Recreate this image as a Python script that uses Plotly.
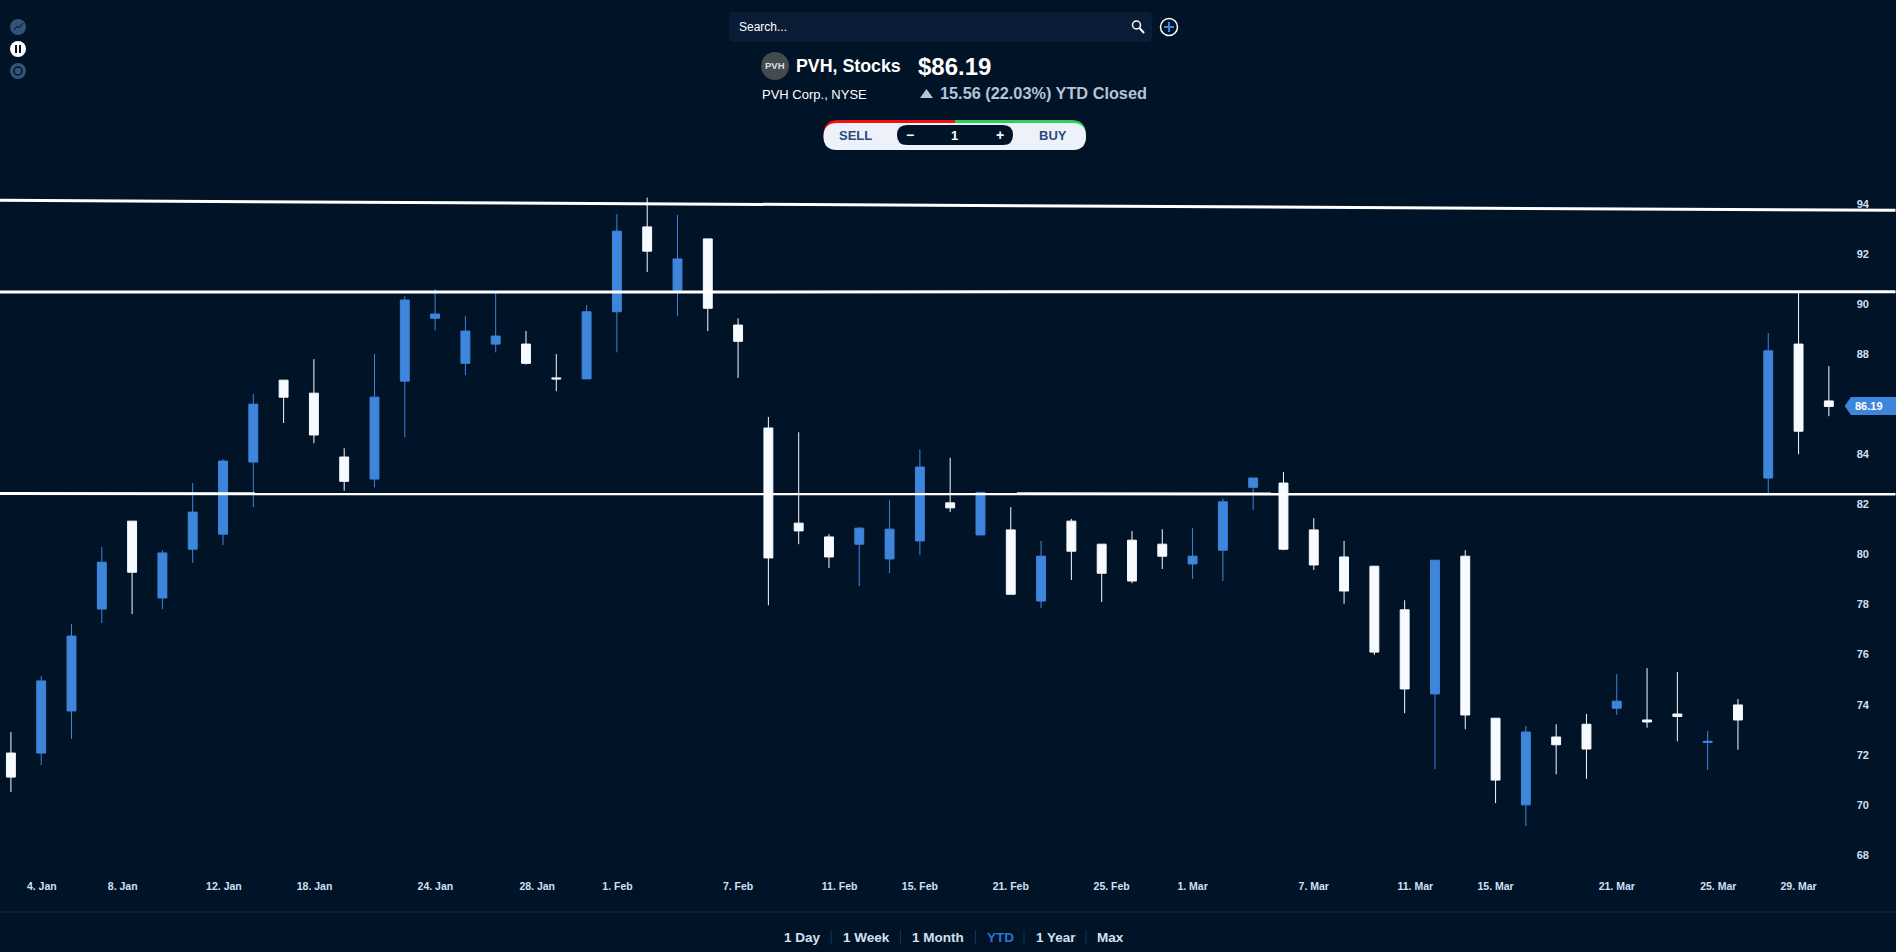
import plotly.graph_objects as go

# trading sessions, the x axis is one unit per session
session = list(range(61))

open_ = [72.35, 72.35, 74.03, 78.10, 81.61, 78.54, 80.49, 81.09, 83.97, 87.24,
         86.72, 84.17, 83.29, 87.20, 89.71, 87.91, 88.68, 88.68, 87.33, 87.29,
         89.97, 93.36, 90.83, 92.88, 89.44, 85.33, 81.53, 80.98, 80.69, 80.10,
         80.82, 82.34, 81.06, 81.26, 78.42, 81.61, 80.69, 80.85, 80.69, 79.90,
         80.45, 82.96, 83.13, 81.26, 80.18, 79.81, 78.07, 74.71, 80.21, 73.74,
         70.28, 72.99, 73.50, 74.14, 73.67, 73.91, 72.77, 74.27, 83.33, 88.68, 86.41]
high = [73.19, 75.43, 77.50, 80.58, 81.61, 80.45, 83.13, 84.08, 86.69, 87.24,
        88.08, 84.52, 88.28, 90.59, 90.88, 89.80, 90.77, 89.20, 88.28, 90.24,
        93.87, 94.53, 93.84, 92.88, 89.71, 85.77, 85.16, 81.09, 81.37, 82.45,
        84.48, 84.14, 82.76, 82.17, 80.82, 81.70, 80.69, 81.22, 81.29, 81.33,
        82.52, 83.33, 83.57, 81.73, 80.82, 79.81, 78.45, 80.05, 80.45, 73.74,
        73.43, 73.50, 73.91, 75.50, 75.74, 75.59, 73.23, 74.51, 89.12, 90.74, 87.80]
low = [70.79, 71.87, 72.92, 77.54, 77.90, 78.10, 79.94, 80.65, 82.17, 85.53,
       84.72, 82.82, 82.96, 84.96, 89.23, 87.44, 88.35, 87.86, 86.80, 87.29,
       88.35, 91.56, 89.80, 89.20, 87.33, 78.25, 80.69, 79.74, 79.02, 79.53,
       80.25, 81.97, 81.06, 78.69, 78.14, 79.26, 78.38, 79.13, 79.70, 79.30,
       79.22, 82.05, 80.45, 79.66, 78.31, 76.27, 73.94, 71.71, 73.30, 70.35,
       69.43, 71.50, 71.32, 73.87, 73.36, 72.82, 71.67, 72.48, 82.71, 84.28, 85.80]
close = [71.39, 75.23, 77.02, 79.97, 79.57, 80.34, 81.97, 84.01, 86.28, 86.56,
         85.05, 83.20, 86.56, 90.44, 89.88, 89.20, 89.00, 87.91, 87.29, 89.97,
         93.19, 92.39, 92.08, 90.11, 88.79, 80.14, 81.22, 80.18, 81.33, 81.29,
         83.77, 82.14, 82.76, 78.69, 80.21, 80.41, 79.53, 79.22, 80.21, 80.21,
         82.38, 83.33, 80.49, 79.86, 78.82, 76.38, 74.91, 80.05, 73.87, 71.27,
         73.19, 72.68, 72.51, 74.42, 73.59, 73.81, 72.82, 73.67, 88.41, 85.20, 86.19]

x_tick_pos = [1.02, 3.69, 7.03, 10.02, 14.01, 17.37, 20.02, 24.0, 27.35, 30.0,
              33.0, 36.33, 39.0, 43.0, 46.35, 49.0, 53.0, 56.35, 59.0]
x_tick_labels = ["4. Jan", "8. Jan", "12. Jan", "18. Jan", "24. Jan", "28. Jan", "1. Feb",
                 "7. Feb", "11. Feb", "15. Feb", "21. Feb", "25. Feb", "1. Mar",
                 "7. Mar", "11. Mar", "15. Mar", "21. Mar", "25. Mar", "29. Mar"]
y_ticks = [68, 70, 72, 74, 76, 78, 80, 82, 84, 86, 88, 90, 92, 94]
y_tick_labels = ["68", "70", "72", "74", "76", "78", "80", "82", "84", "", "88", "90", "92", "94"]

# drawn trend lines, left end and right end
trend_x = [-0.376, 62.2]
trend_top = [94.42, 94.02]
trend_mid = [90.76, 90.77]
trend_low = [82.71, 82.69]

last_price = "86.19"
range_buttons = ["1 Day", "1 Week", "1 Month", "YTD", "1 Year", "Max"]

BG = "#011327"
BLUE = "#3e85dc"
WHITE = "#f7faff"
TICK = "#cfe0f5"
FONT = "Liberation Sans"

W, H = 1896, 952
PLOT_TOP, PLOT_BOTTOM = 150, 878


# page pixels to paper coords, the plot fills the width so only y needs the margin
def fx(x):
    return x / W


def fy(y):
    return (PLOT_BOTTOM - y) / (PLOT_BOTTOM - PLOT_TOP)


def rounded(x0, y0, x1, y1, r):
    p = [
        "M %f %f" % (fx(x0 + r), fy(y0)),
        "L %f %f" % (fx(x1 - r), fy(y0)),
        "Q %f %f %f %f" % (fx(x1), fy(y0), fx(x1), fy(y0 + r)),
        "L %f %f" % (fx(x1), fy(y1 - r)),
        "Q %f %f %f %f" % (fx(x1), fy(y1), fx(x1 - r), fy(y1)),
        "L %f %f" % (fx(x0 + r), fy(y1)),
        "Q %f %f %f %f" % (fx(x0), fy(y1), fx(x0), fy(y1 - r)),
        "L %f %f" % (fx(x0), fy(y0 + r)),
        "Q %f %f %f %f" % (fx(x0), fy(y0), fx(x0 + r), fy(y0)),
        "Z",
    ]
    return " ".join(p)


def poly(points):
    p = ["%s %f %f" % ("M" if i == 0 else "L", fx(a), fy(b)) for i, (a, b) in enumerate(points)]
    return " ".join(p) + " Z"


def path(d, fill, line=None, width=0):
    return dict(type="path", xref="paper", yref="paper", path=d, fillcolor=fill,
                line=dict(color=line or fill, width=width), layer="above")


def circle(cx, cy, r, fill, line=None, width=0):
    return dict(type="circle", xref="paper", yref="paper",
                x0=fx(cx - r), x1=fx(cx + r), y0=fy(cy + r), y1=fy(cy - r),
                fillcolor=fill, line=dict(color=line or fill, width=width), layer="above")


def seg(x0, y0, x1, y1, color, width=1):
    return dict(type="line", xref="paper", yref="paper",
                x0=fx(x0), x1=fx(x1), y0=fy(y0), y1=fy(y1),
                line=dict(color=color, width=width), layer="above")


def text(t, x, y, size, color="#ffffff", bold=False, anchor="left"):
    return dict(text=t, xref="paper", yref="paper", x=fx(x), y=fy(y),
                xanchor=anchor, yanchor="middle", showarrow=False,
                font=dict(family=FONT, size=size, color=color, weight=700 if bold else 400))


fig = go.Figure()

fig.add_trace(go.Candlestick(
    x=session, open=open_, high=high, low=low, close=close,
    increasing=dict(line=dict(color=BLUE, width=1), fillcolor=BLUE),
    decreasing=dict(line=dict(color=WHITE, width=1), fillcolor=WHITE),
    whiskerwidth=0, showlegend=False, hoverinfo="skip"))

for trend in (trend_top, trend_mid, trend_low):
    fig.add_trace(go.Scatter(x=trend_x, y=trend, mode="lines", showlegend=False, hoverinfo="skip",
                             line=dict(color="#ffffff", width=3)))

shapes = [
    # left toolbar
    circle(18, 27, 8, "#34527a"),
    seg(14, 30, 17, 26, BG), seg(17, 26, 19, 28, BG), seg(19, 28, 23, 23, BG),
    circle(18, 49, 8, "#ffffff"),
    seg(16, 45, 16, 53, BG, 2), seg(20, 45, 20, 53, BG, 2),
    circle(18, 71, 8, "#34527a"),
    circle(18, 71, 4, "#34527a", BG, 1.5),
    # search row
    path(rounded(729, 12, 1152, 42, 4), "#0a1c36"),
    circle(1136.5, 25, 4, "rgba(0,0,0,0)", "#ffffff", 1.5),
    seg(1139.5, 28, 1144, 33, "#ffffff", 2),
    circle(1169, 27, 8.5, BG, "#ffffff", 1.5),
    seg(1164, 27, 1174, 27, "#3e85dc", 2), seg(1169, 22, 1169, 32, "#3e85dc", 2),
    # symbol header
    circle(775, 66, 14, "#444a50"),
    path(poly([(920, 98), (933, 98), (926.5, 89)]), "#b6c3d8"),
    # sell / buy pill
    path(rounded(823.5, 120, 960, 150, 15), "#f01010"),
    path(rounded(950, 120, 1086, 150, 15), "#2fcf5a"),
    dict(type="rect", xref="paper", yref="paper", x0=fx(955), x1=fx(965), y0=fy(150), y1=fy(120),
         fillcolor="#2fcf5a", line=dict(width=0), layer="above"),
    dict(type="rect", xref="paper", yref="paper", x0=fx(945), x1=fx(955), y0=fy(150), y1=fy(120),
         fillcolor="#f01010", line=dict(width=0), layer="above"),
    path(rounded(823.5, 123, 1086, 150, 13.5), "#edf2fa"),
    path(rounded(897, 125, 1013, 145, 10), BG),
    # last price tag
    path(poly([(1844.6, 406), (1851, 397), (1896, 397), (1896, 415), (1851, 415)]), BLUE),
    # footer
    seg(0, 912, W, 912, "#0d2a4d"),
]
for sx in [831.2, 900.4, 975.4, 1024, 1086]:
    shapes.append(seg(sx, 930, sx, 944, "#1a3358"))

button_x = [802.5, 866, 938, 1000, 1056, 1110.5]
annotations = [
    text("Search...", 737, 27.5, 12),
    text("PVH", 775, 66, 9.5, "#e0e0e0", True, "center"),
    text("PVH, Stocks", 794, 66, 17.8, "#ffffff", True),
    text("$86.19", 916, 66.5, 24, "#ffffff", True),
    text("PVH Corp., NYSE", 760, 94, 13),
    text("15.56 (22.03%) YTD Closed", 938, 92.5, 16.3, "#b6c3d8", True),
    text("SELL", 855.7, 135, 13, "#2b4a7d", True, "center"),
    text("BUY", 1053, 135, 13, "#2b4a7d", True, "center"),
    text("\u2212", 909.6, 134.5, 14, "#ffffff", True, "center"),
    text("1", 954.4, 135, 13, "#ffffff", True, "center"),
    text("+", 1000, 134.5, 14, "#ffffff", True, "center"),
    text(last_price, 1869, 406, 11, "#ffffff", True, "center"),
]
for label, bx in zip(range_buttons, button_x):
    annotations.append(text(label, bx, 937, 13.5, "#2e73d4" if label == "YTD" else "#d5e0f0", True, "center"))

fig.update_layout(
    width=W, height=H, autosize=False,
    margin=dict(l=0, r=0, t=PLOT_TOP, b=H - PLOT_BOTTOM, pad=0),
    paper_bgcolor=BG, plot_bgcolor=BG, boxgap=0.58, showlegend=False,
    shapes=shapes, annotations=annotations,
    xaxis=dict(range=[-0.36, 62.216], tickmode="array", tickvals=x_tick_pos, ticktext=x_tick_labels,
               showgrid=False, zeroline=False, showline=False, ticks="", rangeslider=dict(visible=False),
               tickfont=dict(family=FONT, size=10.5, color=TICK, weight=700), tickangle=0),
    yaxis=dict(range=[67.36, 96.43], tickmode="array", tickvals=y_ticks, ticktext=y_tick_labels,
               side="left", anchor="free", position=0.9857, automargin=False,
               showgrid=False, zeroline=False, showline=False, ticks="", ticklabelshift=-7,
               tickfont=dict(family=FONT, size=11, color=TICK, weight=700)),
)

fig.write_html("out.html", config=dict(displayModeBar=False),
               post_script="document.body.style.margin='0';document.body.style.background='%s';" % BG)
